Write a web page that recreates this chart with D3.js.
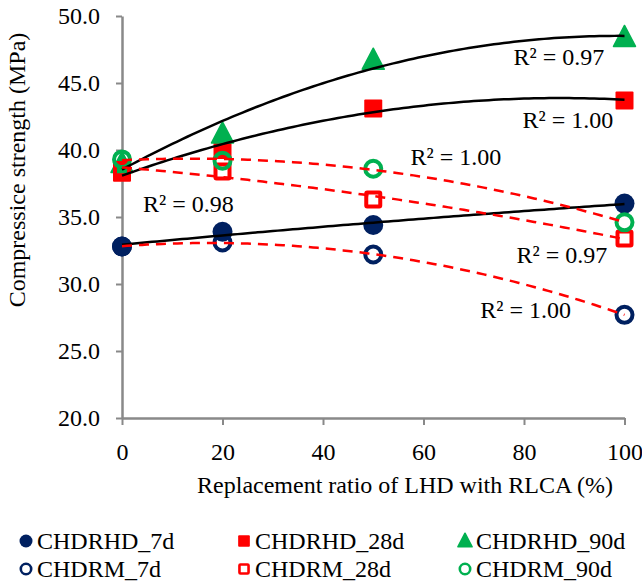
<!DOCTYPE html>
<html><head><meta charset="utf-8">
<script src="https://cdn.jsdelivr.net/npm/d3@7"></script>
<style>
body{margin:0;background:#fff}
svg{display:block}
text{font-family:"Liberation Serif","Times New Roman",serif;fill:#000}
</style>
</head><body>
<svg id="chart" width="642" height="581"></svg>
<script>
// ---- data ----
const xValues = [0, 20, 50, 100];
const seriesNames = ["CHDRHD_7d", "CHDRHD_28d", "CHDRHD_90d", "CHDRM_7d", "CHDRM_28d", "CHDRM_90d"];
const hd7  = [32.8, 33.9, 34.4, 36.0];
const hd28 = [38.3, 40.0, 43.1, 43.7];
const hd90 = [39.0, 41.2, 46.7, 48.4];
const rm7  = [32.8, 33.1, 32.2, 27.7];
const rm28 = [38.5, 38.4, 36.3, 33.4];
const rm90 = [39.3, 39.2, 38.6, 34.6];
const r2Texts = ["R² = 0.98", "R² = 1.00", "R² = 0.97", "R² = 1.00", "R² = 0.97", "R² = 1.00"];
const xTicks = [0, 20, 40, 60, 80, 100];
const yTicks = [20, 25, 30, 35, 40, 45, 50];
const xTitle = "Replacement ratio of LHD with RLCA (%)";
const yTitle = "Compressice strength (MPa)";

// ---- styling / layout ----
const NAVY = "#002060", RED = "#FF0000", GREEN = "#00B050", AXIS = "#898989";
const styles = [
  {color: NAVY, shape: "circle", filled: true,  dashed: false},
  {color: RED,  shape: "square", filled: true,  dashed: false},
  {color: GREEN,shape: "triangle", filled: true, dashed: false},
  {color: NAVY, shape: "circle", filled: false, dashed: true},
  {color: RED,  shape: "square", filled: false, dashed: true},
  {color: GREEN,shape: "circle", filled: false, dashed: true}
];
// R² label anchor positions in data coordinates (x %, y MPa)
const r2Pos = [[4.2, 35.37], [79.7, 41.64], [77.9, 46.34], [71.3, 27.46], [78.5, 31.57], [57.4, 38.88]];

const allSeries = [hd7, hd28, hd90, rm7, rm28, rm90];

const svg = d3.select("#chart");
const x = d3.scaleLinear().domain([0, 100]).range([122, 624.5]);
const y = d3.scaleLinear().domain([20, 50]).range([418, 16]);

// axes
const yAxis = svg.append("g").attr("transform", "translate(122,0)")
  .call(d3.axisLeft(y).tickValues(yTicks).tickFormat(d3.format(".1f")).tickSize(6).tickSizeOuter(0).tickPadding(16));
const xAxis = svg.append("g").attr("transform", "translate(0,418)")
  .call(d3.axisBottom(x).tickValues(xTicks).tickSize(7).tickSizeOuter(0).tickPadding(18));
[xAxis, yAxis].forEach(g => {
  g.select(".domain").attr("stroke", AXIS).attr("stroke-width", 2.5);
  g.selectAll(".tick line").attr("stroke", AXIS).attr("stroke-width", 2);
  g.selectAll(".tick text").attr("font-size", 24).attr("font-family", "Liberation Serif").attr("fill", "#000");
});

// titles
svg.append("text").attr("x", 405).attr("y", 493).attr("text-anchor", "middle")
  .attr("font-size", 24).text(xTitle);
svg.append("text").attr("transform", "translate(25,170) rotate(-90)").attr("text-anchor", "middle")
  .attr("font-size", 24).text(yTitle);

// marker drawing
function drawMarker(g, st, cx, cy, size) {
  const sw = size * 0.2;
  if (st.shape === "circle") {
    const r = st.filled ? size / 2 : size / 2 - sw / 2;
    g.append("circle").attr("cx", cx).attr("cy", cy).attr("r", r)
      .attr("fill", st.filled ? st.color : "none")
      .attr("stroke", st.filled ? "none" : st.color).attr("stroke-width", sw);
  } else if (st.shape === "square") {
    const s = st.filled ? size * 0.9 : size * 0.9 - sw;
    g.append("rect").attr("x", cx - s / 2).attr("y", cy - s / 2).attr("width", s).attr("height", s)
      .attr("rx", 1)
      .attr("fill", st.filled ? st.color : "none")
      .attr("stroke", st.filled ? "none" : st.color).attr("stroke-width", sw);
  } else {
    const w = size * 1.1, h = size;
    g.append("path").attr("d", `M${cx},${cy - h * 0.6}L${cx + w / 2},${cy + h * 0.45}L${cx - w / 2},${cy + h * 0.45}Z`)
      .attr("fill", st.color).attr("stroke", st.color).attr("stroke-width", 1.5).attr("stroke-linejoin", "round");
  }
}

// markers
const markerG = svg.append("g");
allSeries.forEach((vals, i) => {
  vals.forEach((v, j) => drawMarker(markerG, styles[i], x(xValues[j]), y(v), 20));
});

// polynomial (order 2) least-squares trendline
function polyFit2(xs, ys) {
  const n = xs.length;
  let s = [0, 0, 0, 0, 0], t = [0, 0, 0];
  for (let k = 0; k < n; k++) {
    const a = xs[k], b = ys[k];
    for (let p = 0; p < 5; p++) s[p] += Math.pow(a, p);
    for (let p = 0; p < 3; p++) t[p] += b * Math.pow(a, p);
  }
  const M = [[s[0], s[1], s[2], t[0]], [s[1], s[2], s[3], t[1]], [s[2], s[3], s[4], t[2]]];
  for (let c = 0; c < 3; c++) {
    for (let r = c + 1; r < 3; r++) {
      const f = M[r][c] / M[c][c];
      for (let k = c; k < 4; k++) M[r][k] -= f * M[c][k];
    }
  }
  const coef = [0, 0, 0];
  for (let r = 2; r >= 0; r--) {
    let sum = M[r][3];
    for (let k = r + 1; k < 3; k++) sum -= M[r][k] * coef[k];
    coef[r] = sum / M[r][r];
  }
  return xv => coef[0] + coef[1] * xv + coef[2] * xv * xv;
}
const lineG = svg.append("g");
const line = d3.line().x(d => x(d[0])).y(d => y(d[1])).curve(d3.curveLinear);
const samples = d3.range(0, 100.01, 1);
allSeries.forEach((vals, i) => {
  const f = polyFit2(xValues, vals);
  lineG.append("path").attr("d", line(samples.map(s => [s, f(s)])))
    .attr("fill", "none")
    .attr("stroke", styles[i].dashed ? RED : "#000")
    .attr("stroke-width", styles[i].dashed ? 2.5 : 2.5)
    .attr("stroke-dasharray", styles[i].dashed ? "10,7" : null);
});

// R² labels
r2Texts.forEach((t, i) => {
  svg.append("text").attr("x", x(r2Pos[i][0])).attr("y", y(r2Pos[i][1]))
    .attr("font-size", 24).text(t);
});

// legend
const legG = svg.append("g");
const legCols = [26, 244, 465];
const legRows = [541, 569];
seriesNames.forEach((name, i) => {
  const col = i % 3, row = Math.floor(i / 3);
  const cx = legCols[col], cy = legRows[row];
  drawMarker(legG, styles[i], cx, cy, 13);
  legG.append("text").attr("x", cx + 11).attr("y", cy + 8).attr("font-size", 24).text(name);
});
</script>
</body></html>
